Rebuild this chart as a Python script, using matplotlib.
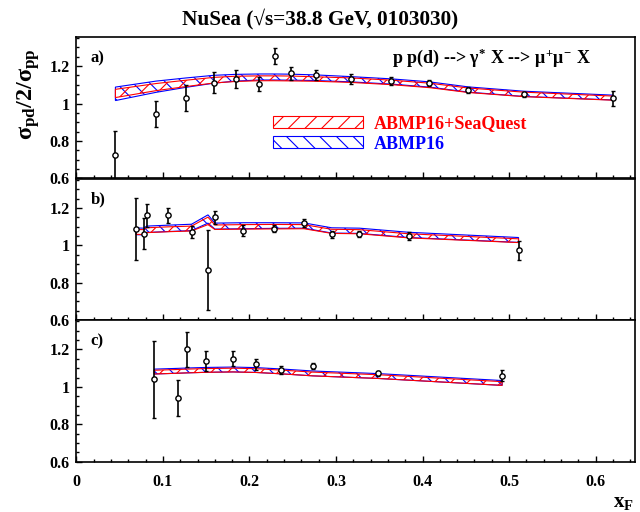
import numpy as np
import matplotlib
matplotlib.use("Agg")
import matplotlib.pyplot as plt
from matplotlib.ticker import MultipleLocator, FixedLocator, FuncFormatter

plt.rcParams['font.family'] = ['Liberation Serif', 'DejaVu Serif']
plt.rcParams['font.weight'] = 'bold'
plt.rcParams['mathtext.fontset'] = 'custom'
plt.rcParams['mathtext.rm'] = 'Liberation Serif:bold'
plt.rcParams['mathtext.it'] = 'Liberation Serif:bold'
plt.rcParams['mathtext.bf'] = 'Liberation Serif:bold'
plt.rcParams['hatch.linewidth'] = 0.8

# ---- panel a) ----
xa = [0.045, 0.092, 0.127, 0.159, 0.184, 0.211, 0.229, 0.248, 0.277, 0.317,
      0.364, 0.408, 0.453, 0.517, 0.620]
ya = [0.725, 0.944, 1.029, 1.111, 1.133, 1.103, 1.254, 1.161, 1.152, 1.131,
      1.120, 1.111, 1.071, 1.049, 1.028]
ea = [0.128, 0.072, 0.070, 0.056, 0.048, 0.037, 0.043, 0.036, 0.027, 0.026,
      0.021, 0.016, 0.016, 0.014, 0.040]
abmp_a = [1.052, 1.090, 1.112, 1.130, 1.138, 1.142, 1.142, 1.141, 1.138, 1.130,
          1.118, 1.102, 1.075, 1.052, 1.032]
abmp_a_err = [0.036, 0.030, 0.025, 0.021, 0.018, 0.016, 0.016, 0.016, 0.015, 0.014,
              0.014, 0.014, 0.014, 0.014, 0.013]
sq_a = [1.054, 1.088, 1.108, 1.125, 1.132, 1.135, 1.135, 1.134, 1.131, 1.125,
        1.113, 1.097, 1.071, 1.049, 1.029]
sq_a_err = [0.022, 0.019, 0.017, 0.015, 0.014, 0.013, 0.013, 0.013, 0.012, 0.012,
            0.012, 0.012, 0.012, 0.012, 0.011]

# ---- panel b) ----
xb = [0.069, 0.078, 0.081, 0.106, 0.133, 0.152, 0.160, 0.193, 0.228, 0.263,
      0.295, 0.327, 0.384, 0.511]
yb = [1.087, 1.063, 1.160, 1.160, 1.070, 0.866, 1.150, 1.079, 1.089, 1.119,
      1.060, 1.060, 1.050, 0.973]
eb = [0.164, 0.081, 0.062, 0.041, 0.032, 0.214, 0.034, 0.029, 0.018, 0.021,
      0.018, 0.016, 0.020, 0.053]
abmp_b = [1.075, 1.074, 1.086, 1.091, 1.096, 1.141, 1.103, 1.105, 1.106, 1.106,
          1.080, 1.078, 1.056, 1.029]
abmp_b_err = [0.018, 0.018, 0.017, 0.017, 0.017, 0.022, 0.016, 0.016, 0.015, 0.014,
              0.014, 0.014, 0.014, 0.013]
sq_b = [1.072, 1.071, 1.081, 1.086, 1.090, 1.131, 1.097, 1.099, 1.100, 1.100,
        1.075, 1.073, 1.051, 1.025]
sq_b_err = [0.013, 0.013, 0.013, 0.013, 0.013, 0.020, 0.012, 0.012, 0.012, 0.011,
            0.011, 0.011, 0.011, 0.010]

# ---- panel c) ----
xc = [0.090, 0.117, 0.128, 0.150, 0.181, 0.208, 0.236, 0.273, 0.349, 0.492]
yc = [1.040, 0.941, 1.202, 1.139, 1.150, 1.120, 1.089, 1.111, 1.072, 1.059]
ec = [0.207, 0.095, 0.094, 0.055, 0.040, 0.029, 0.022, 0.015, 0.015, 0.030]
abmp_c = [1.082, 1.086, 1.088, 1.091, 1.093, 1.090, 1.083, 1.072, 1.058, 1.021]
abmp_c_err = [0.013] * 10
sq_c = [1.079, 1.083, 1.085, 1.088, 1.090, 1.087, 1.080, 1.069, 1.055, 1.018]
sq_c_err = [0.010] * 10

panel_labels = ['a)', 'b)', 'c)']
x_ticks = [0, 0.1, 0.2, 0.3, 0.4, 0.5, 0.6]
y_ticks = [0.6, 0.8, 1.0, 1.2]

RED = '#ff0000'
BLUE = '#0000ff'


def band(ax, x, mid, err, color, hatch):
    x = np.asarray(x, float)
    mid = np.asarray(mid, float)
    err = np.asarray(err, float)
    lo, hi = mid - err, mid + err
    poly = ax.fill(np.r_[x, x[::-1]], np.r_[lo, hi[::-1]], facecolor='none',
                   edgecolor=color, hatch=hatch, lw=0.8, zorder=2)[0]
    return poly


fig = plt.figure(figsize=(6.4, 5.12), dpi=100)
left, width, height = 0.1195, 0.8732, 0.2766
bottoms = [0.6516, 0.3746, 0.0982]

fmt = FuncFormatter(lambda v, p: f'{v:g}')
data = [
    (xa, ya, ea, abmp_a, abmp_a_err, sq_a, sq_a_err),
    (xb, yb, eb, abmp_b, abmp_b_err, sq_b, sq_b_err),
    (xc, yc, ec, abmp_c, abmp_c_err, sq_c, sq_c_err),
]
axes = []
for i, (b, d) in enumerate(zip(bottoms, data)):
    ax = fig.add_axes([left, b, width, height])
    axes.append(ax)
    x, y, e, bm, be, sm, se = d
    hb = band(ax, x, bm, be, BLUE, '\\\\')
    hr = band(ax, x, sm, se, RED, '//')
    ax.errorbar(x, y, yerr=e, fmt='o', ms=3.8, mfc='white', mec='black', mew=1.0,
                ecolor='black', elinewidth=1.2, capsize=1.6, capthick=1.2, zorder=3)
    ax.set_xlim(0, 0.646)
    ax.set_ylim(0.6, 1.357)
    ax.xaxis.set_major_locator(FixedLocator(x_ticks))
    ax.xaxis.set_minor_locator(MultipleLocator(0.02))
    ax.yaxis.set_major_locator(FixedLocator(y_ticks))
    ax.yaxis.set_minor_locator(MultipleLocator(0.05))
    ax.yaxis.set_major_formatter(fmt)
    ax.xaxis.set_major_formatter(fmt)
    ax.tick_params(which='both', direction='in', top=False, right=False, width=1.0,
                   labelsize=11.5, colors='black')
    ax.tick_params(which='major', length=4.5)
    ax.tick_params(which='minor', length=2.3)
    ax.tick_params(axis='y', pad=5)
    ax.tick_params(axis='x', pad=9)
    for s in ax.spines.values():
        s.set_linewidth(1.2)
    if i < 2:
        ax.tick_params(axis='x', labelbottom=False)
    ax.text(0.025, 0.85, panel_labels[i], transform=ax.transAxes, fontsize=12,
            fontweight='bold', ha='left', va='center')
    if i == 0:
        leg_handles = [hr, hb]

axes[0].text(0.565, 0.85, r'p p(d) --> $\gamma^{*}$ X --> $\mu^{+}\mu^{-}$ X',
             transform=axes[0].transAxes, fontsize=13, ha='left', va='center')

leg = axes[0].legend(handles=leg_handles, labels=['ABMP16+SeaQuest', 'ABMP16'],
                     loc='center left', bbox_to_anchor=(0.351, 0.3146),
                     frameon=False, fontsize=13, handlelength=4.98,
                     handleheight=0.65, handletextpad=0.62, labelspacing=0.2,
                     borderpad=0, borderaxespad=0, labelcolor=[RED, BLUE])

fig.text(0.5, 1 - 19 / 512, 'NuSea (\u221as=38.8 GeV, 0103030)', ha='center',
         va='center', fontsize=15.3, fontweight='bold')
fig.text(0.044, 1 - 94 / 512, r'$\sigma_{pd}/2/\sigma_{pp}$', rotation=90,
         ha='center', va='center', fontsize=17.5)
fig.text(623 / 640, 1 - 502 / 512, r'$x_{F}$', ha='center', va='center', fontsize=15)

fig.savefig('out.png', dpi=100)
